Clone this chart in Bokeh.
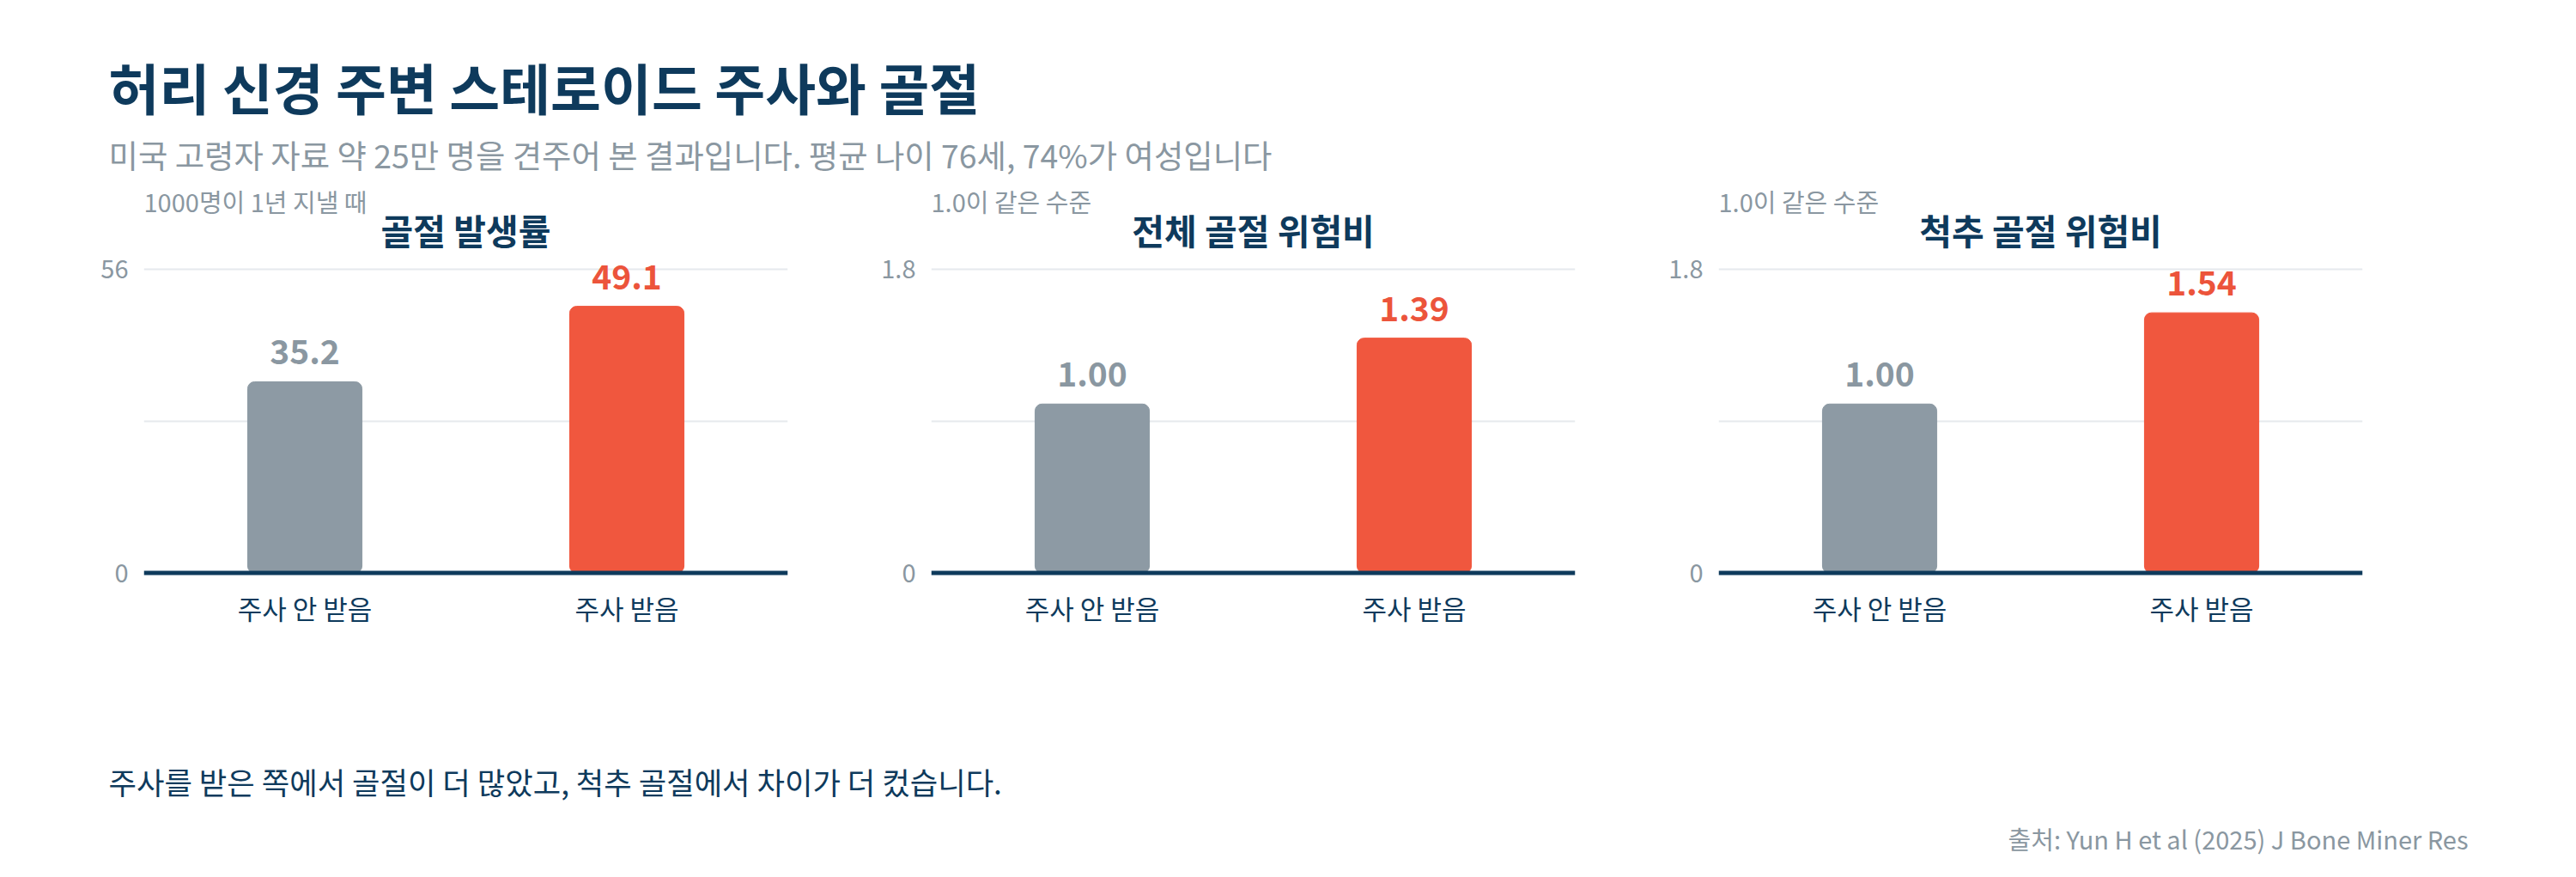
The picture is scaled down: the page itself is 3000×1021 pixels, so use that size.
from bokeh.plotting import figure
from bokeh.models import Range1d, FactorRange, FixedTicker, Span, Label, ColumnDataSource
from bokeh.layouts import column, row
from bokeh.core.properties import value
from bokeh.embed import file_html
from bokeh.resources import INLINE

# data
groups = ["주사 안 받음", "주사 받음"]
panel_titles = ["골절 발생률", "전체 골절 위험비", "척추 골절 위험비"]
panel_notes = ["1000명이 1년 지낼 때", "1.0이 같은 수준", "1.0이 같은 수준"]
incidence = [35.2, 49.1]
hr_all = [1.00, 1.39]
hr_spine = [1.00, 1.54]
axis_max = [56, 1.8, 1.8]
axis_max_labels = ["56", "1.8", "1.8"]
label_fmt = ["{:.1f}", "{:.2f}", "{:.2f}"]

title_text = "허리 신경 주변 스테로이드 주사와 골절"
subtitle_text = "미국 고령자 자료 약 25만 명을 견주어 본 결과입니다. 평균 나이 76세, 74%가 여성입니다"
footnote_text = "주사를 받은 쪽에서 골절이 더 많았고, 척추 골절에서 차이가 더 컸습니다."
source_text = "출처: Yun H et al (2025) J Bone Miner Res"

# style
FONT = "Noto Sans CJK KR"
NAVY = "#0e3a5c"
GRAY_TXT = "#8a97a1"
GRID = "#e6e9ed"
bar_colors = ["#8d9aa4", "#f0573e"]
label_colors = ["#8a97a1", "#ec543b"]

# layout, in page pixels
PAGE_W = 2984
LEFT_PAD = 8
FIG_W = 917
BORDER_L = 159
BORDER_R = 8
HEAD_H = 212           # panels start here
ZERO_Y = 666.5         # where value 0 sits
SPAN_PX = 354          # pixels from 0 to the axis maximum
FRAME_BOTTOM = 672
PANEL_BOTTOM = 70
PANEL_H = FRAME_BOTTOM - HEAD_H + PANEL_BOTTOM
FOOT_TOP = HEAD_H + PANEL_H
FOOT_H = 1005 - FOOT_TOP
RISE = 0.44   # svg text sits lower than the asked baseline by about this many em


def text_canvas(w, h):
    p = figure(width=w, height=h, x_range=Range1d(0, w), y_range=Range1d(h, 0),
               x_axis_type=None, y_axis_type=None, output_backend="svg",
               toolbar_location=None, min_border=0, outline_line_color=None)
    p.grid.visible = False
    return p


def make_label(x, y, text, size, color, bold=False, align="left"):
    return Label(x=x, y=y, text=text, text_font=FONT,
                 text_font_size=f"{size}px", text_color=color,
                 text_font_style="bold" if bold else "normal",
                 text_align=align, text_baseline="alphabetic")


def add_text(p, x, y, text, size, color, bold=False, align="left"):
    p.add_layout(make_label(x, y - RISE * size, text, size, color, bold, align))


# header: title and subtitle
head = text_canvas(PAGE_W, HEAD_H)
add_text(head, 126, 128, title_text, 64, NAVY, bold=True)
add_text(head, 126, 196, subtitle_text, 37.4, GRAY_TXT)


def bar_panel(values, ymax, ymax_label, fmt, title, note, pad=0):
    def data_y(page_y, size):
        # page baseline -> value on this panel's axis
        return (ZERO_Y - page_y + RISE * size) / SPAN_PX * ymax

    p = figure(width=FIG_W + pad, height=PANEL_H, x_range=FactorRange(*groups),
               y_range=Range1d(-(FRAME_BOTTOM - ZERO_Y) / SPAN_PX * ymax,
                               (ZERO_Y - HEAD_H) / SPAN_PX * ymax),
               output_backend="svg", toolbar_location=None,
               min_border_left=BORDER_L + pad, min_border_right=BORDER_R,
               min_border_top=0, min_border_bottom=PANEL_BOTTOM,
               outline_line_color=None)

    source = ColumnDataSource(dict(
        group=groups,
        value=values,
        color=bar_colors,
        label=[fmt.format(v) for v in values],
        label_color=label_colors,
    ))

    p.vbar(x="group", top="value", width=0.355, bottom=0, color="color",
           border_radius=8, source=source)
    p.text(x="group", y="value", text="label", text_color="label_color",
           text_font=value(FONT), text_font_size="39px", text_font_style="bold",
           text_align="center", text_baseline="alphabetic",
           y_offset=-34.6, source=source)

    p.add_layout(Span(location=0, dimension="width", line_color=NAVY, line_width=5))

    # note at the left edge, title centred over the two bars
    p.add_layout(make_label(0, data_y(246, 29), note, 29, GRAY_TXT))
    p.add_layout(make_label(len(groups) / 2, data_y(285, 41), title, 41, NAVY,
                            bold=True, align="center"))

    p.xgrid.visible = False
    p.ygrid.ticker = FixedTicker(ticks=[ymax / 2, ymax])
    p.ygrid.grid_line_color = GRID
    p.ygrid.grid_line_width = 2

    p.yaxis.ticker = FixedTicker(ticks=[0, ymax])
    p.yaxis.major_label_overrides = {0: "0", ymax: ymax_label}
    p.yaxis.major_label_text_color = GRAY_TXT
    p.yaxis.major_label_text_font_size = "29px"
    p.yaxis.major_label_standoff = 18

    p.xaxis.major_label_text_color = NAVY
    p.xaxis.major_label_text_font_size = "31px"
    p.xaxis.major_label_standoff = 12

    p.axis.major_label_text_font = FONT
    p.axis.axis_line_color = None
    p.axis.major_tick_line_color = None
    p.axis.minor_tick_line_color = None
    p.axis.major_tick_out = 0
    p.axis.major_tick_in = 0
    return p


panels = [
    bar_panel(incidence, axis_max[0], axis_max_labels[0], label_fmt[0],
              panel_titles[0], panel_notes[0], pad=LEFT_PAD),
    bar_panel(hr_all, axis_max[1], axis_max_labels[1], label_fmt[1],
              panel_titles[1], panel_notes[1]),
    bar_panel(hr_spine, axis_max[2], axis_max_labels[2], label_fmt[2],
              panel_titles[2], panel_notes[2]),
]

# footer: takeaway and source
foot = text_canvas(PAGE_W, FOOT_H)
add_text(foot, 126, 925 - FOOT_TOP, footnote_text, 35.3, NAVY)
add_text(foot, 2874, 988 - FOOT_TOP, source_text, 29, GRAY_TXT, align="right")

layout = column(head, row(*panels), foot)

open("out.html", "w").write(file_html(layout, INLINE))
